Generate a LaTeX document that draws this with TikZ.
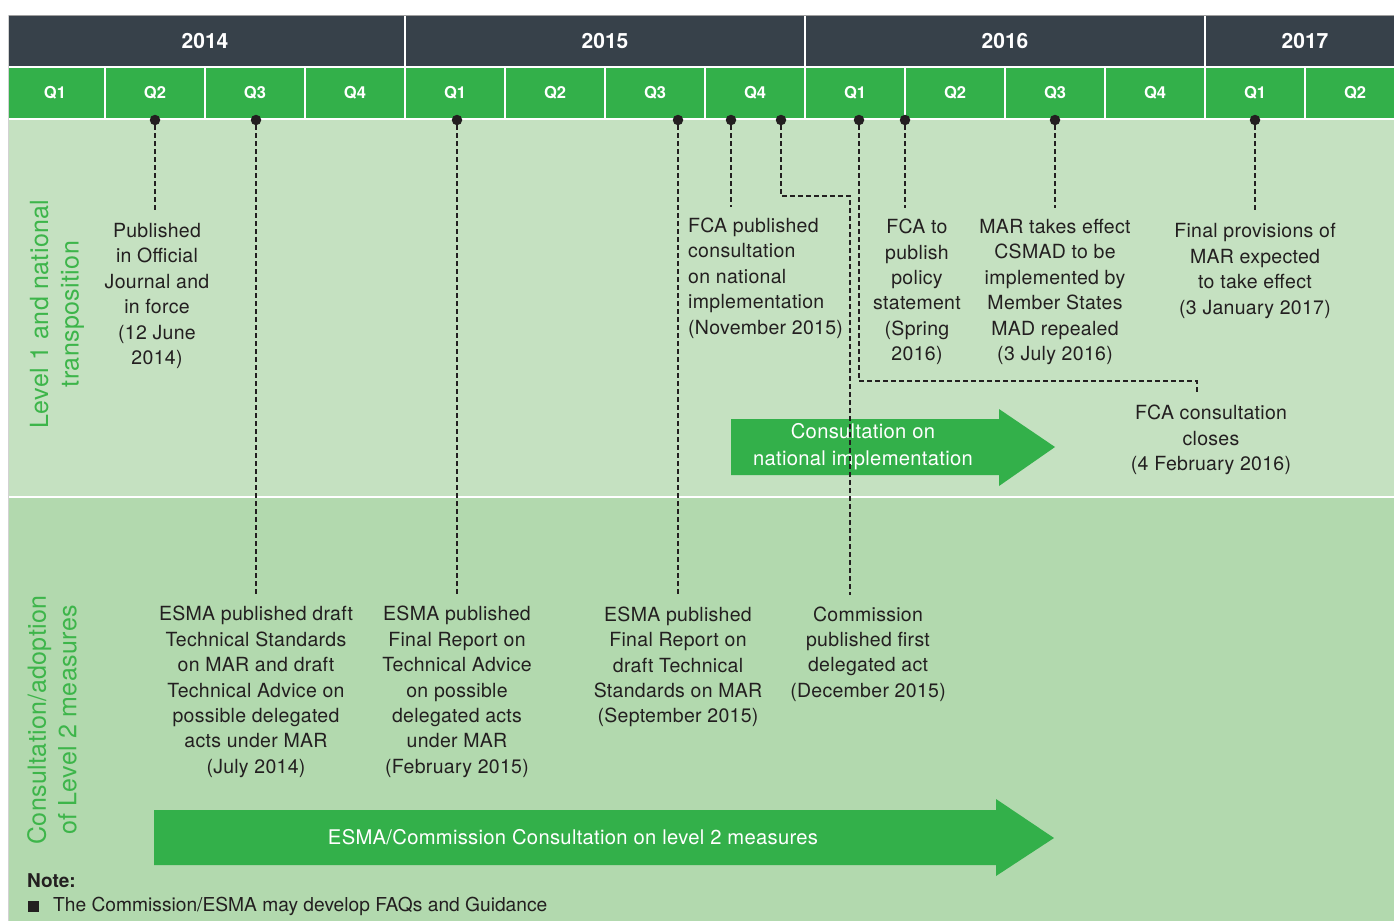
\documentclass[tikz,border=0pt]{standalone}
\usepackage{fontspec}
\setmainfont{TeX Gyre Heros}
\newfontfamily\evfamily{TeX Gyre Heros}[LetterSpace=1.5]

\definecolor{hdrgrey}{HTML}{37414A}
\definecolor{hdrgreen}{HTML}{33B04A}
\definecolor{lblgreen}{HTML}{3DB54A}
\definecolor{bandone}{HTML}{C5E1C1}
\definecolor{bandtwo}{HTML}{B2D9AE}
\definecolor{txtdark}{HTML}{231F20}
\newcommand{\evfont}{\evfamily\fontsize{19.5}{25.4}\selectfont}

\begin{document}
\begin{tikzpicture}[x=1pt, y=-1pt]
		\tikzstyle{every node}=[inner sep=0pt]
		\tikzstyle{yearcell}=[fill=hdrgrey,draw=white,line width=1.5pt,minimum width=400pt,minimum height=52pt,text=white,font=\fontsize{21}{24}\selectfont\bfseries]
		\tikzstyle{qcell}=[fill=hdrgreen,draw=white,line width=1.5pt,minimum width=100pt,minimum height=52pt,text=white,font=\fontsize{16.5}{20}\selectfont\bfseries]
		\tikzstyle{event}=[text=txtdark,align=center,font=\evfont]
		\tikzstyle{dot}=[fill=txtdark,circle,minimum size=10.5pt]
		\tikzstyle{leader}=[draw=txtdark,line width=1.4pt,dash pattern=on 5pt off 3pt,shorten >=11pt]
		\tikzstyle{bandlabel}=[text=lblgreen,align=center,rotate=90,font=\evfamily\fontsize{25}{30.5}\selectfont]
		\tikzstyle{arrowtext}=[text=white,align=center,font=\evfamily\fontsize{20.2}{27}\selectfont]
    \def\ahead{999}

		\useasboundingbox (0,0) rectangle (1394,921);

		% bands and header
		\begin{scope}
			\clip (8,15) rectangle (1394,921);
			\fill[bandone] (8,119) rectangle (1394,497);
			\fill[bandtwo] (8,497) rectangle (1394,921);
			\draw[white,line width=2pt] (8,497) -- (1394,497);
			\foreach \yr [count=\k from 0] in {2014,2015,2016}
				\node[yearcell] (y\yr) at (205+400*\k,41) {\yr};
			\node[yearcell,minimum width=200pt] (y2017) at (1305,41) {2017};
			\foreach \i in {0,...,13}{
				\pgfmathtruncatemacro{\q}{mod(\i,4)+1}
				\node[qcell] (q\i) at (55+100*\i,93) {Q\q};
			}
		\end{scope}
		\draw[gray!75,line width=1pt] (8,15) -- (1394,15);
		\draw[gray!35,line width=0.8pt] (8,15) -- (8,921);

		% side labels
		\node[bandlabel] (lvlone) at (57,314) {Level 1 and national\\transposition};
		\node[bandlabel] (lvltwo) at (52,720) {Consultation/adoption\\of Level 2 measures};

		% arrows
		\fill[hdrgreen] (731,419) -- (\ahead,419) -- (\ahead,409) -- (1055,447) -- (\ahead,486) -- (\ahead,475) -- (731,475) -- cycle;
		\node[arrowtext] (natcons) at (863,447) {Consultation on\\national implementation};
		\fill[hdrgreen] (154,810) -- (996,810) -- (996,799) -- (1054,838) -- (996,876) -- (996,865) -- (154,865) -- cycle;
		\node[arrowtext] (lvlcons) at (573,837) {ESMA/Commission Consultation on level 2 measures};

		% events
		\node[event] (pub) at (157,296) {Published\\in Official\\Journal and\\in force\\(12 June\\2014)};
		\node[event,align=left,anchor=west] (fcapub) at (688,278) {FCA published\\consultation\\on national\\implementation\\(November 2015)};
		\node[event] (fcato) at (917,292) {FCA to\\publish\\policy\\statement\\(Spring\\2016)};
		\node[event] (mar) at (1055,292) {MAR takes effect\\CSMAD to be\\implemented by\\Member States\\MAD repealed\\(3 July 2016)};
		\node[event] (final) at (1255,271) {Final provisions of\\MAR expected\\to take effect\\(3 January 2017)};
		\node[event] (closes) at (1211,440) {FCA consultation\\closes\\(4 February 2016)};
		\node[event] (esmadraft) at (256,692) {ESMA published draft\\Technical Standards\\on MAR and draft\\Technical Advice on\\possible delegated\\acts under MAR\\(July 2014)};
		\node[event] (esmaadv) at (457,692) {ESMA published\\Final Report on\\Technical Advice\\on possible\\delegated acts\\under MAR\\(February 2015)};
		\node[event] (esmarts) at (678,667) {ESMA published\\Final Report on\\draft Technical\\Standards on MAR\\(September 2015)};
		\node[event] (comm) at (868,654) {Commission\\published first\\delegated act\\(December 2015)};

		% dots and leaders
		\foreach \n/\x in {1/155,2/256,3/457,4/678,5/731,6/781,7/859,8/905,9/1055,10/1255}
			\node[dot] (d\n) at (\x,120) {};
		\coordinate (kcomm) at (850,196);
		\coordinate (kclose) at (1197,381);
		\draw[leader] (d1) -- (d1 |- pub.north);
		\draw[leader] (d2) -- (d2 |- esmadraft.north);
		\draw[leader] (d3) -- (d3 |- esmaadv.north);
		\draw[leader] (d4) -- (d4 |- esmarts.north);
		\draw[leader] (d5) -- (d5 |- fcapub.north);
		\draw[leader] (d6) |- (kcomm) -- (kcomm |- comm.north);
		\draw[leader] (d7) |- (kclose) -- (kclose |- closes.north);
		\draw[leader] (d8) -- (d8 |- fcato.north);
		\draw[leader] (d9) -- (d9 |- mar.north);
		\draw[leader] (d10) -- (d10 |- final.north);

		% note
		\node[anchor=west,text=txtdark,font=\fontsize{19}{24}\selectfont\bfseries] (note) at (27,881) {Note:};
		\node[fill=txtdark,minimum size=11pt] (bullet) at (33.5,906) {};
		\node[anchor=west,text=txtdark,font=\fontsize{19.2}{24}\selectfont] (notetext) at (53,906) {The Commission/ESMA may develop FAQs and Guidance};
	\end{tikzpicture}
\end{document}
